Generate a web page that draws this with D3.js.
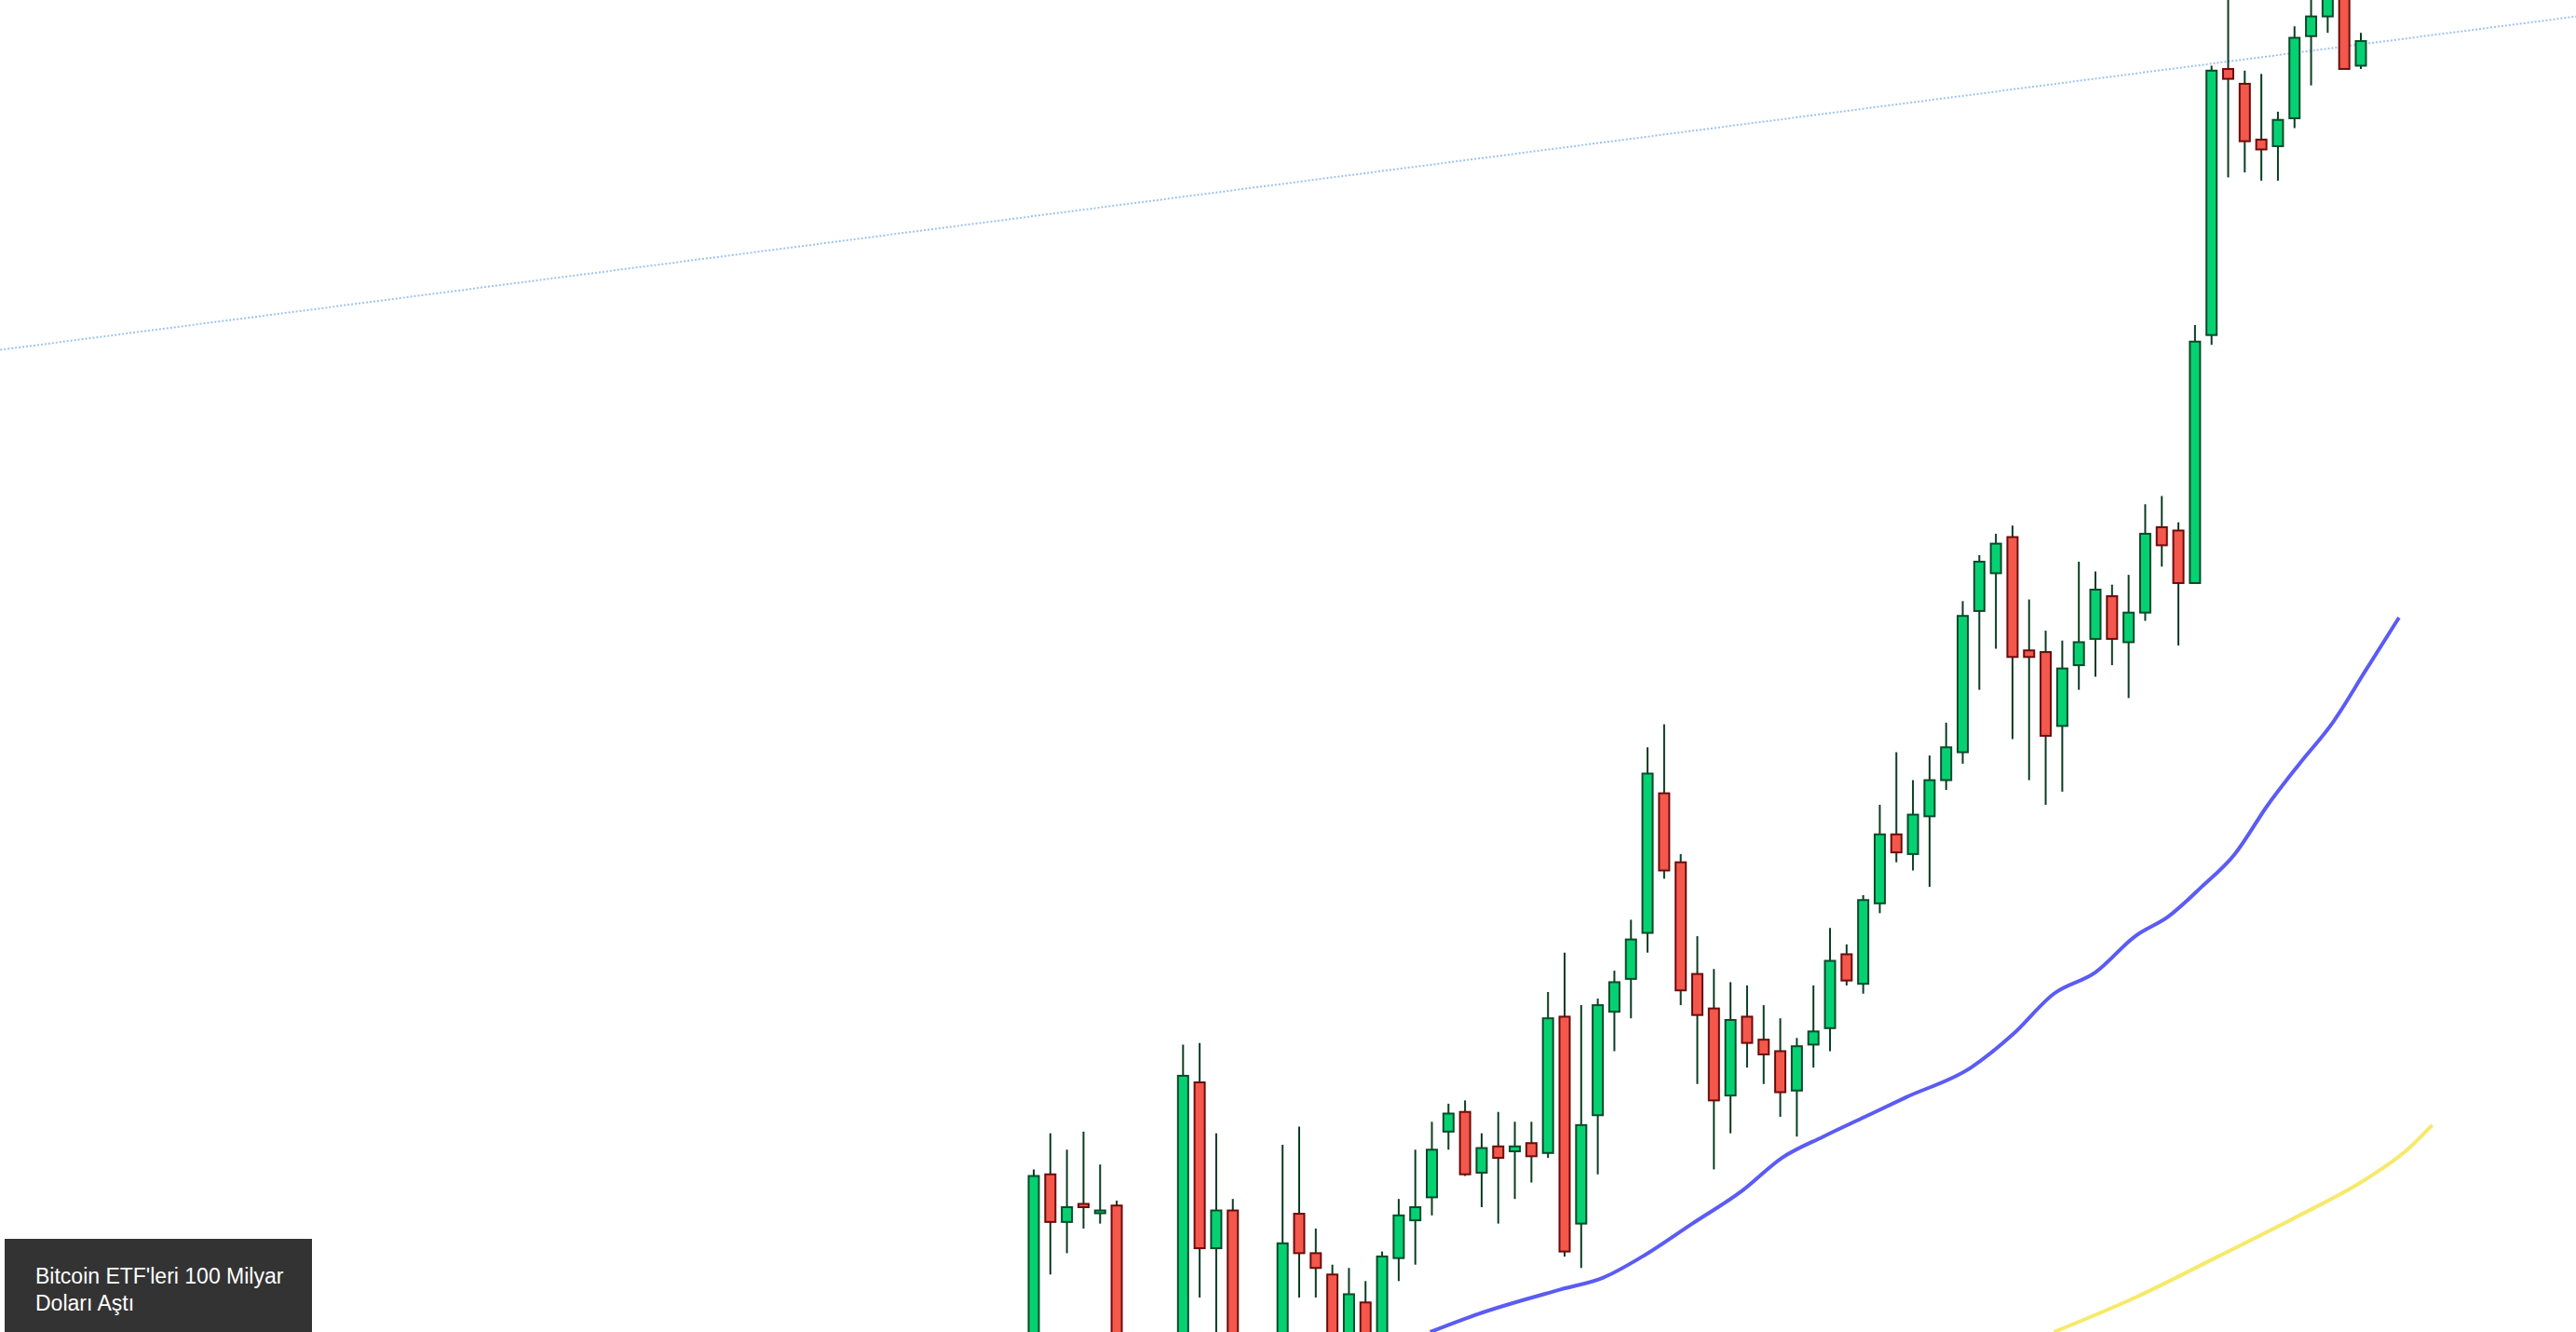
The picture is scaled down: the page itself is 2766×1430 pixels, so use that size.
<!DOCTYPE html>
<html>
<head>
<meta charset="utf-8">
<script src="https://cdn.jsdelivr.net/npm/d3@7"></script>
<style>
  html, body { margin: 0; padding: 0; background: #fff; overflow: hidden; }
  svg { display: block; }
</style>
</head>
<body>
<div id="chart"></div>
<script>
const width = 2766;
const height = 1430;

// Candle day index (gaps are candles hidden below the view)
const days = [0, 1, 2, 3, 4, 5, 9, 10, 11, 12].concat(d3.range(15, 81));
const opens = [58000, 64250, 62800, 63350, 63100, 63300, 58000, 67050, 62000, 63150,
  58000, 63050, 61850, 61200, 58000, 60350, 58000, 61700, 62850, 63550,
  65550, 66150, 64300, 65100, 64950, 65200, 64900, 69050, 62750, 66050,
  69200, 70200, 71600, 75850, 73750, 70350, 69300, 66650, 69050, 68350,
  68000, 66800, 68200, 68700, 70950, 70050, 72500, 74600, 74000, 75150,
  76250, 77100, 81400, 82550, 83650, 80200, 80150, 77900, 79750, 80550,
  81850, 80450, 81350, 83950, 83850, 82250, 89800, 97900, 97450, 95750,
  95550, 96400, 98900, 99500, 100250, 98000];
const highs = [64400, 65500, 65000, 65550, 64550, 63450, 68200, 68250, 65500, 63500,
  65150, 65700, 62600, 61500, 61400, 61000, 61900, 63500, 65000, 65850,
  66400, 66500, 65500, 66150, 65850, 65850, 69800, 71000, 69400, 69600,
  70450, 72000, 77250, 77950, 74000, 71500, 70500, 70100, 70000, 69400,
  69000, 68400, 70000, 71750, 71250, 72750, 75500, 77100, 76250, 77000,
  78000, 81700, 83100, 83750, 84000, 81750, 80800, 80500, 82900, 82600,
  82200, 82500, 84650, 84900, 84100, 90100, 98000, 100250, 97850, 97750,
  96600, 99200, 100250, 100500, 100500, 99000];
const lows = [58000, 61200, 61850, 62600, 62750, 58000, 58000, 60500, 59450, 58000,
  58000, 60500, 60500, 58000, 58000, 58000, 58000, 61000, 61500, 63000,
  65000, 64200, 63250, 62750, 63500, 64000, 64750, 61750, 61400, 64250,
  68000, 69000, 71000, 73250, 69400, 67000, 64400, 65500, 67500, 67000,
  66000, 65400, 67500, 68000, 70000, 69750, 72200, 73750, 73500, 73000,
  75950, 76750, 79000, 80250, 77500, 76250, 75500, 75900, 79000, 79400,
  79750, 78750, 81100, 82750, 80350, 82250, 89500, 94600, 94750, 94500,
  94500, 96100, 97400, 99000, 97900, 97900];
const closes = [64200, 62800, 63250, 63250, 63150, 58000, 67250, 62000, 63150, 58000,
  62150, 61850, 61400, 58000, 60600, 58000, 61750, 63000, 63250, 65000,
  66100, 64250, 65050, 64750, 65100, 64800, 69000, 61900, 65750, 69400,
  70100, 71400, 76450, 73500, 69850, 69100, 66500, 68950, 68250, 67900,
  66750, 68150, 68600, 70750, 70150, 72600, 74600, 74050, 75200, 76250,
  77250, 81250, 82900, 83450, 80000, 80000, 77600, 79650, 80450, 82050,
  80550, 81350, 83750, 83400, 82250, 89600, 97850, 97600, 95700, 95450,
  96350, 98850, 99500, 100250, 97900, 98750];

// Moving averages
const maFastDays = [23.9, 26.8, 31.8, 34.3, 36.7, 39.7, 42.7, 45.1, 47.6, 50.1, 52.6, 56.5,
  59, 61.5, 64, 66.4, 68.4, 70.4, 72.4, 74.4, 76.3, 78.3, 80.3, 82.3];
const maFastValues = [59450, 60000, 60750, 61100, 61750, 62750, 63750, 64750, 65400, 66000,
  66600, 67500, 68500, 69750, 70400, 71500, 72100, 73000, 74000, 75500, 76750, 78000, 79600, 81200];
const maSlowDays = [61.5, 66.4, 71.4, 76.3, 80.3, 82.8, 84.3];
const maSlowValues = [59450, 60500, 61750, 63000, 64100, 65000, 65750];

// Long trend line
const trendDays = [-62.3, 93];
const trendValues = [89350, 99500];

const noteLines = ["Bitcoin ETF'leri 100 Milyar", "Doları Aştı"];

const candles = days.map((d, i) => ({
  day: d, open: opens[i], high: highs[i], low: lows[i], close: closes[i],
}));

const svg = d3.select("#chart").append("svg")
  .attr("width", width).attr("height", height);

const x = d3.scaleLinear().domain([0, 80]).range([1110, 2535]);
const y = d3.scaleLinear().domain([59450, 100000]).range([height, 0]);

// trend line
svg.append("line")
  .attr("x1", x(trendDays[0])).attr("y1", y(trendValues[0]))
  .attr("x2", x(trendDays[1])).attr("y2", y(trendValues[1]))
  .attr("stroke", "#9ec3f0").attr("stroke-width", 2)
  .attr("stroke-dasharray", "2,2");

const line = d3.line().x((d) => x(d[0])).y((d) => y(d[1])).curve(d3.curveMonotoneX);
svg.append("path")
  .attr("d", line(d3.zip(maFastDays, maFastValues)))
  .attr("fill", "none").attr("stroke", "#5b5bf5").attr("stroke-width", 4);
svg.append("path")
  .attr("d", line(d3.zip(maSlowDays, maSlowValues)))
  .attr("fill", "none").attr("stroke", "#f7e96a").attr("stroke-width", 4);

const bodyW = 11;
const g = svg.append("g");
const c = g.selectAll("g").data(candles).enter().append("g");
c.append("line")
  .attr("x1", (d) => x(d.day)).attr("x2", (d) => x(d.day))
  .attr("y1", (d) => y(d.high)).attr("y2", (d) => y(d.low))
  .attr("stroke", "#0b3d23").attr("stroke-width", 2);
c.append("rect")
  .attr("x", (d) => x(d.day) - bodyW / 2)
  .attr("width", bodyW)
  .attr("y", (d) => y(Math.max(d.open, d.close)))
  .attr("height", (d) => Math.max(3, Math.abs(y(d.open) - y(d.close))))
  .attr("fill", (d) => (d.close >= d.open ? "#05d173" : "#f4574b"))
  .attr("stroke", (d) => (d.close >= d.open ? "#0b4a2a" : "#6b0d0d"))
  .attr("stroke-width", 2);

// news label
const note = svg.append("g");
note.append("rect")
  .attr("x", 5).attr("y", 1330).attr("width", 330).attr("height", 100)
  .attr("fill", "#333333");
note.selectAll("text").data(noteLines).enter().append("text")
  .attr("x", 38).attr("y", (d, i) => 1378 + i * 29)
  .attr("fill", "#ffffff")
  .attr("font-family", "Liberation Sans, Arial, sans-serif")
  .attr("font-size", 23)
  .text((d) => d);
</script>
</body>
</html>
